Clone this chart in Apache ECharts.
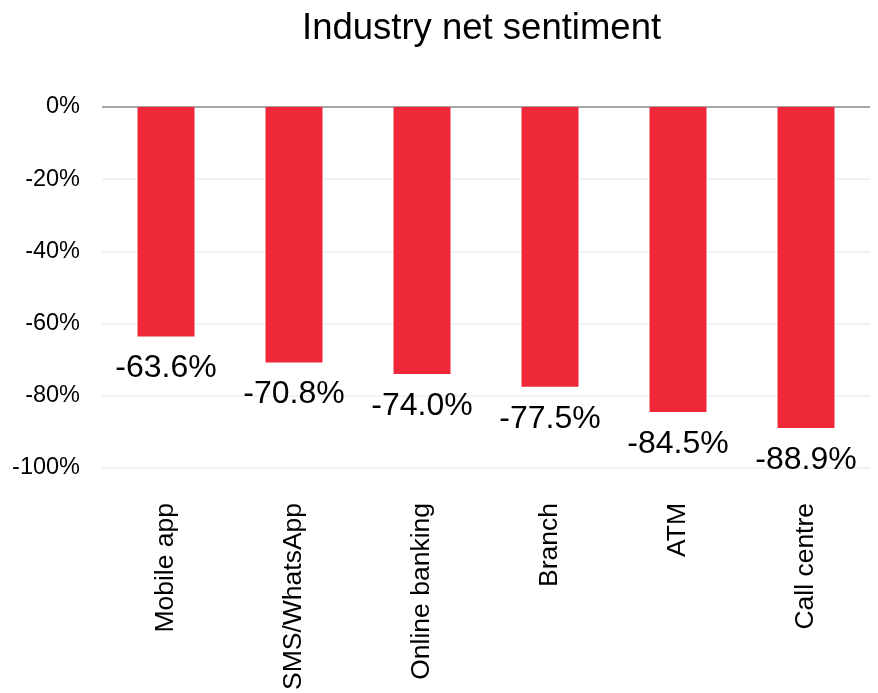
<!DOCTYPE html>
<html>
<head>
<meta charset="utf-8">
<script src="https://cdn.jsdelivr.net/npm/echarts@6/dist/echarts.min.js"></script>
<style>
html,body{margin:0;padding:0;background:#fff;}
#main{width:878px;height:693px;}
</style>
</head>
<body>
<div id="main"></div>
<script>
var categories = ['Mobile app', 'SMS/WhatsApp', 'Online banking', 'Branch', 'ATM', 'Call centre'];
var netSentiment = [-63.6, -70.8, -74.0, -77.5, -84.5, -88.9];
var yTicks = [-100, -80, -60, -40, -20, 0];

var font = 'Arial, "Liberation Sans", sans-serif';
var myChart = echarts.init(document.getElementById('main'));
var option = {
    animation: false,
    title: {
        text: 'Industry net sentiment',
        left: 297,
        top: 5,
        textStyle: {fontFamily: font, fontSize: 36.5, fontWeight: 'normal', color: '#000'}
    },
    grid: {left: 102, right: 8, top: 107, bottom: 221, containLabel: false},
    xAxis: {
        type: 'category',
        data: categories,
        axisLine: {show: false, onZero: false},
        axisTick: {show: false},
        axisLabel: {
            rotate: 90,
            margin: 35,
            fontFamily: font,
            fontSize: 26.5,
            color: '#000'
        }
    },
    yAxis: {
        type: 'value',
        min: yTicks[0],
        max: yTicks[yTicks.length - 1],
        interval: 20,
        axisLine: {show: false},
        axisTick: {show: false},
        axisLabel: {
            margin: 22,
            fontFamily: font,
            fontSize: 23.5,
            color: '#000',
            formatter: '{value}%'
        },
        splitLine: {
            lineStyle: {
                width: 2,
                color: ['#f2f2f2', '#f2f2f2', '#f2f2f2', '#f2f2f2', '#f2f2f2', '#a6a6a6']
            }
        }
    },
    series: [{
        type: 'bar',
        data: netSentiment,
        barWidth: 57,
        itemStyle: {color: '#ee2838'},
        label: {
            show: true,
            position: 'bottom',
            distance: 16,
            fontFamily: font,
            fontSize: 32,
            color: '#000',
            formatter: function (p) { return p.value.toFixed(1) + '%'; }
        }
    }]
};
myChart.setOption(option);
</script>
</body>
</html>
